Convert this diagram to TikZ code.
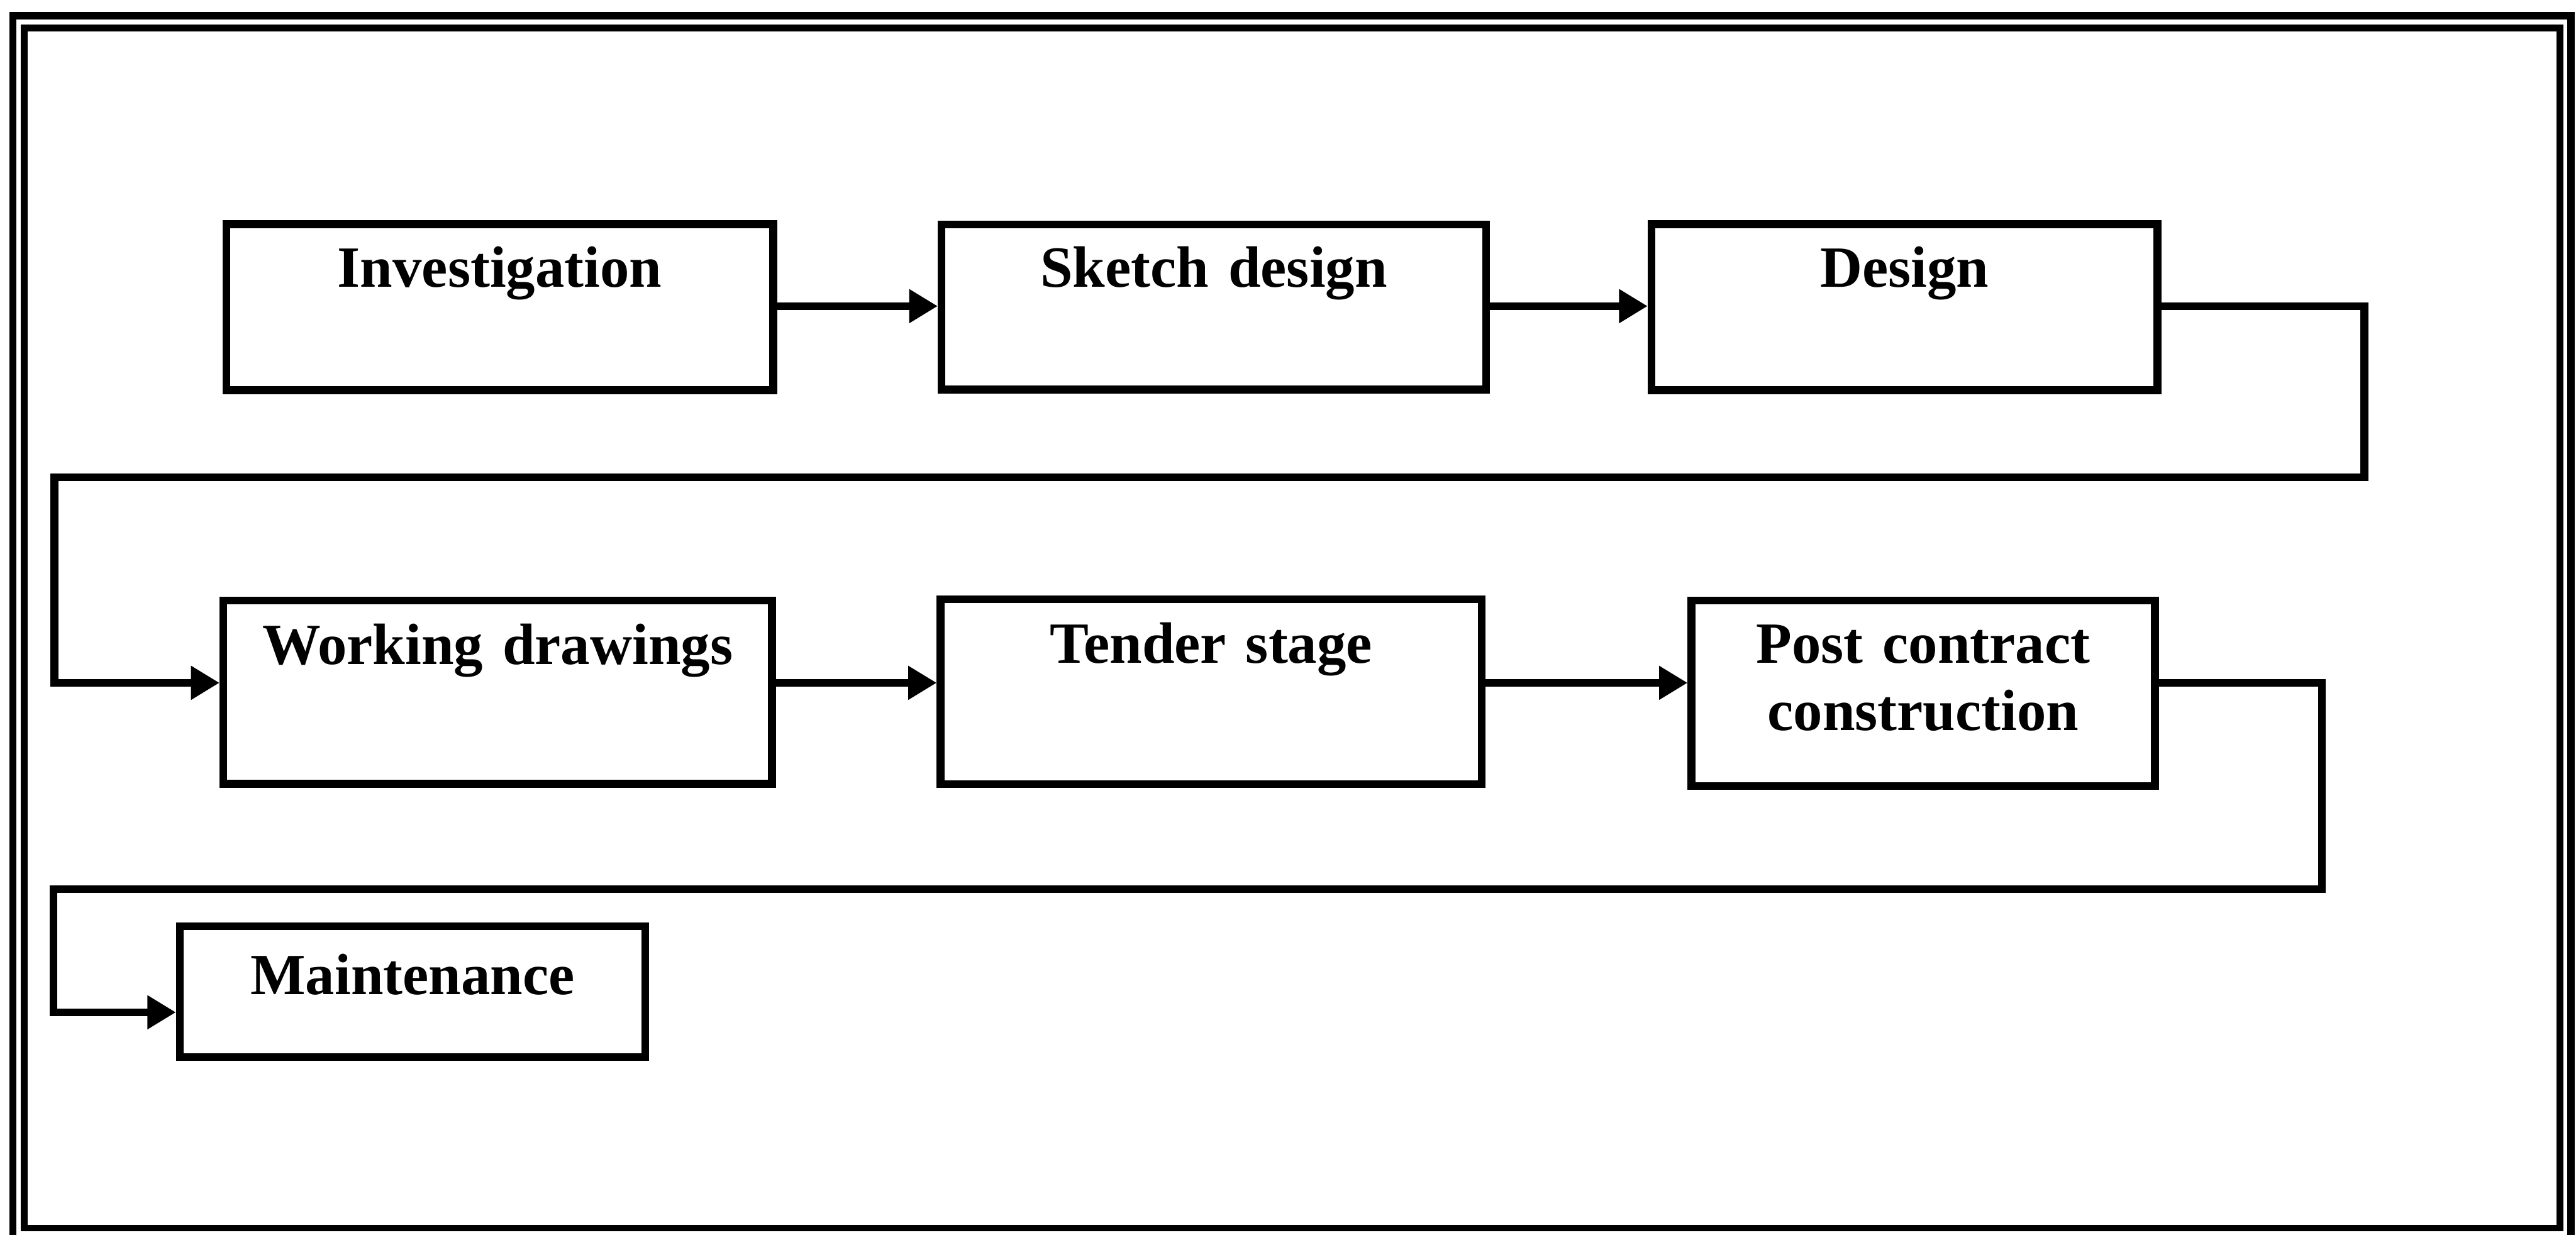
\documentclass[tikz,border=0pt]{standalone}
\usepackage{fontspec}
\setmainfont{Liberation Serif}
\usetikzlibrary{arrows.meta}

\begin{document}
\begin{tikzpicture}[x=1cm, y=-1cm, >={Triangle[length=0.55cm, width=0.62cm]},
  stage/.style={draw, line width=0.15cm, inner sep=0pt, align=center,
    font=\bfseries\fontsize{32}{37}\selectfont},
  flow/.style={->, line width=0.15cm}]

  \useasboundingbox (0,0) rectangle (49.64, 23.79);

  % --- 1. double frame ---
  \draw[line width=0.14cm] (0.25, 0.30) rectangle (49.54, 23.95);
  \draw[line width=0.13cm] (0.47, 0.54) rectangle (49.33, 23.67);

  % --- 2. stages (first row) ---
  \node[stage, text width=10.54cm, text height=1.21cm, text depth=1.99cm] (invest) at (9.63, 5.92) {Investigation};
  \node[stage, text width=10.49cm, text height=1.20cm, text depth=1.98cm] (sketch) at (23.39, 5.92) {Sketch design};
  \node[stage, text width=9.75cm, text height=1.21cm, text depth=1.99cm] (design) at (36.70, 5.92) {Design};

  % --- 3. stages (second and third row) ---
  \node[stage, text width=10.57cm, text height=1.23cm, text depth=2.30cm] (working) at (9.59, 13.34) {Working drawings};
  \node[stage, text width=10.43cm, text height=1.23cm, text depth=2.33cm] (tender) at (23.34, 13.33) {Tender stage};
  \node[stage, text width=8.93cm, text height=1.21cm, text depth=2.37cm] (post) at (37.06, 13.36) {Post contract\\construction};
  \node[stage, text width=8.97cm, text height=1.32cm, text depth=1.20cm] (maint) at (7.95, 19.11) {Maintenance};

  % --- 4. connectors ---
  \coordinate (rowA) at (0, 5.90);
  \coordinate (rowB) at (0, 13.16);
  \coordinate (rowC) at (0, 19.51);
  \coordinate (bendA) at (45.56, 9.20);
  \coordinate (bendB) at (1.05, 9.20);
  \coordinate (bendC) at (44.74, 17.14);
  \coordinate (bendD) at (1.03, 17.14);

  \draw[flow] (invest.east |- rowA) -- (sketch.west |- rowA);
  \draw[flow] (sketch.east |- rowA) -- (design.west |- rowA);
  \draw[flow] (design.east |- rowA) -| (bendA) -- (bendB) |- (working.west |- rowB);
  \draw[flow] (working.east |- rowB) -- (tender.west |- rowB);
  \draw[flow] (tender.east |- rowB) -- (post.west |- rowB);
  \draw[flow] (post.east |- rowB) -| (bendC) -- (bendD) |- (maint.west |- rowC);

\end{tikzpicture}
\end{document}
